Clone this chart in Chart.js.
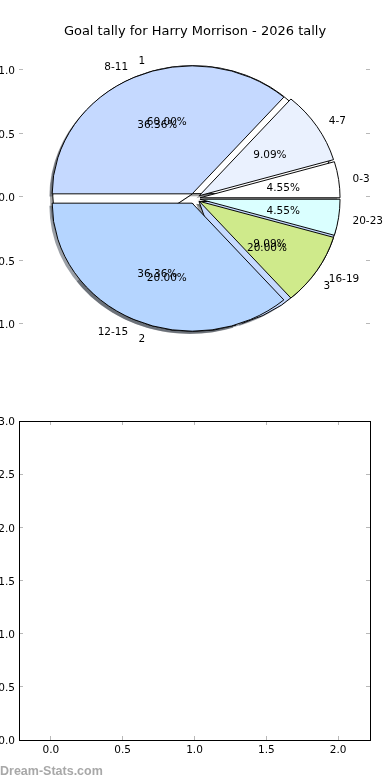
<!DOCTYPE html>
<html lang="en">
<head>
<meta charset="UTF-8" />
<title>Goal tally for Harry Morrison - 2026 tally</title>
<script src="https://cdn.jsdelivr.net/npm/chart.js@4.4.1/dist/chart.umd.min.js"></script>
<style>
  body { margin: 0; background: #fff; }
  #wrap { position: relative; width: 390px; height: 780px; overflow: hidden; }
  canvas { position: absolute; left: 0; }
  #watermark { position: absolute; left: 0; top: 764px; line-height: 1; font: bold 12.5px "Liberation Sans", sans-serif; color: #a8a8a8; }
</style>
</head>
<body>
<div id="wrap">
  <canvas id="topAxes" width="390" height="360" style="top:0"></canvas>
  <canvas id="pie" width="390" height="360" style="top:0"></canvas>
  <canvas id="bottomAxes" width="390" height="400" style="top:380px"></canvas>
  <div id="watermark">Dream-Stats.com</div>
</div>
<script>
const chartTitle = 'Goal tally for Harry Morrison - 2026 tally';

// goals by time of day (the pie on top)
const hourLabels = ['0-3', '4-7', '8-11', '12-15', '16-19', '20-23'];
const hourGoals = [1, 2, 8, 8, 2, 1];
// goals per match (the pie underneath)
const matchLabels = ['1', '2', '3'];
const matchGoals = [3, 1, 1];
const sliceColors = ['#ffffff', '#eaf1fe', '#c5d9ff', '#b5d5ff', '#cfea8b', '#daffff'];

const topYTicks = [-1.0, -0.5, 0.0, 0.5, 1.0];
const bottomXTicks = [0.0, 0.5, 1.0, 1.5, 2.0];
const bottomYTicks = [0.0, 0.5, 1.0, 1.5, 2.0, 2.5, 3.0];

const PIE_RX = 140;      // px per data unit, across
const PIE_RY = 128;      // px per data unit, up/down
const EXPLODE = 0.04;
const TICK_GRAY = '#b8b8b8';
const TEXT_DROP = 1.5;   // canvas 'middle' sits a bit higher than matplotlib's centre

Chart.defaults.font.family = "'DejaVu Sans', sans-serif";
Chart.defaults.font.size = 10.5;
Chart.defaults.color = '#000';

const fmt = v => (v < 0 ? '\u2212' : '') + Math.abs(v).toFixed(1);

function tickAxis(position, ticks, min, max, size, showLabels, frame) {
  const vertical = position === 'left' || position === 'right';
  return {
    position: position,
    min: min,
    max: max,
    afterBuildTicks: s => { s.ticks = ticks.map(v => ({ value: v })); },
    afterFit: s => { if (s.isHorizontal()) s.height = size; else s.width = size; },
    grid: { drawOnChartArea: false, color: TICK_GRAY, tickColor: TICK_GRAY, tickLength: -4, lineWidth: 1 },
    border: { display: frame, color: '#000', width: 1 },
    ticks: { display: showLabels, padding: 8, labelOffset: vertical ? TEXT_DROP : 0,
      callback: v => fmt(v), color: '#000' }
  };
}

// top axes: only the y ticks survive (the pie hides the frame)
new Chart(document.getElementById('topAxes'), {
  type: 'scatter',
  data: { datasets: [{ data: [] }] },
  options: {
    responsive: false, animation: false, events: [],
    layout: { padding: { top: 0, bottom: 12, left: 0, right: 0 } },
    plugins: {
      legend: { display: false },
      tooltip: { enabled: false },
      title: { display: true, text: chartTitle, color: '#000',
        font: { size: 13, weight: 'normal' }, padding: { top: 24.2, bottom: 8.2 } }
    },
    scales: {
      x: { display: false, min: -1, max: 1 },
      y: tickAxis('left', topYTicks, -150 / PIE_RY, 150 / PIE_RY, 19, true, false),
      y2: tickAxis('right', topYTicks, -150 / PIE_RY, 150 / PIE_RY, 20, false, false)
    }
  }
});

function shade(hex) {
  const n = parseInt(hex.slice(1), 16);
  const r = (n >> 16) & 255, g = (n >> 8) & 255, b = n & 255;
  return `rgba(${Math.round(r * 0.3)},${Math.round(g * 0.3)},${Math.round(b * 0.3)},0.5)`;
}

// both pies share centre + radius, get exploded, squashed and turned counter-clockwise
const pieLook = {
  id: 'pieLook',
  beforeDatasetsDraw(chart) {
    const ctx = chart.ctx;
    const metas = [chart.getDatasetMeta(1), chart.getDatasetMeta(0)];
    const cx = metas[1].data[0].x, cy = metas[1].data[0].y;
    const e = EXPLODE * PIE_RX;
    metas.forEach(meta => meta.data.forEach(arc => {
      arc.innerRadius = 0;
      arc.outerRadius = PIE_RX;
      if (!arc.exploded) {
        const draw = arc.draw;
        arc.draw = function (c) {
          const mid = (this.startAngle + this.endAngle) / 2;
          c.save();
          c.translate(Math.cos(mid) * e, Math.sin(mid) * e);
          draw.call(this, c);
          c.restore();
        };
        arc.exploded = true;
      }
    }));
    ctx.save();
    ctx.translate(cx, cy);
    ctx.scale(1, -PIE_RY / PIE_RX);
    ctx.translate(-cx, -cy);
    // shadows, shifted left/down like matplotlib
    metas.forEach(meta => {
      const colors = chart.data.datasets[meta.index].backgroundColor;
      meta.data.forEach((arc, i) => {
        const mid = (arc.startAngle + arc.endAngle) / 2;
        const ox = cx + Math.cos(mid) * e - 0.02 * PIE_RX;
        const oy = cy + Math.sin(mid) * e - 0.02 * PIE_RX;
        ctx.beginPath();
        ctx.moveTo(ox, oy);
        ctx.arc(ox, oy, PIE_RX, arc.startAngle, arc.endAngle);
        ctx.closePath();
        ctx.fillStyle = shade(colors[i % colors.length]);
        ctx.fill();
      });
    });
  },
  afterDatasetsDraw(chart) {
    const ctx = chart.ctx;
    ctx.restore();
    ctx.save();
    ctx.font = "10.5px 'DejaVu Sans', sans-serif";
    ctx.fillStyle = '#000';
    ctx.textBaseline = 'middle';
    const texts = (meta, labels) => {
      const values = chart.data.datasets[meta.index].data;
      const total = values.reduce((a, b) => a + b, 0);
      meta.data.forEach((arc, i) => {
        const mid = (arc.startAngle + arc.endAngle) / 2;
        const c = Math.cos(mid), s = Math.sin(mid);
        ctx.textAlign = c > 0 ? 'left' : 'right';
        ctx.fillText(labels[i], arc.x + (EXPLODE + 1.1) * PIE_RX * c,
          arc.y - (EXPLODE + 1.1) * PIE_RY * s + TEXT_DROP);
        ctx.textAlign = 'center';
        ctx.fillText((values[i] / total * 100).toFixed(2) + '%',
          arc.x + (EXPLODE + 0.6) * PIE_RX * c, arc.y - (EXPLODE + 0.6) * PIE_RY * s + TEXT_DROP);
      });
    };
    texts(chart.getDatasetMeta(1), matchLabels);
    texts(chart.getDatasetMeta(0), hourLabels);
    ctx.restore();
  }
};

new Chart(document.getElementById('pie'), {
  type: 'pie',
  data: {
    labels: hourLabels,
    datasets: [
      { data: hourGoals, backgroundColor: sliceColors, borderColor: '#000', borderWidth: 1, clip: false },
      { data: matchGoals, backgroundColor: sliceColors.slice(0, 3), borderColor: '#000', borderWidth: 1, clip: false }
    ]
  },
  options: {
    responsive: false, animation: false, events: [],
    rotation: 90,
    radius: PIE_RX,
    layout: { padding: { left: 19, right: 20, top: 48.5, bottom: 11.5 } },
    plugins: { legend: { display: false }, tooltip: { enabled: false } }
  },
  plugins: [pieLook]
});

// the empty second subplot
new Chart(document.getElementById('bottomAxes'), {
  type: 'scatter',
  data: { datasets: [{ data: [] }] },
  options: {
    responsive: false, animation: false, events: [],
    layout: { padding: 0 },
    plugins: { legend: { display: false }, tooltip: { enabled: false } },
    scales: {
      x: tickAxis('bottom', bottomXTicks, -0.222, 2.222, 40, true, true),
      x2: tickAxis('top', bottomXTicks, -0.222, 2.222, 41, false, true),
      y: tickAxis('left', bottomYTicks, 0, 3, 19, true, true),
      y2: tickAxis('right', bottomYTicks, 0, 3, 20, false, true)
    }
  }
});
</script>
</body>
</html>
